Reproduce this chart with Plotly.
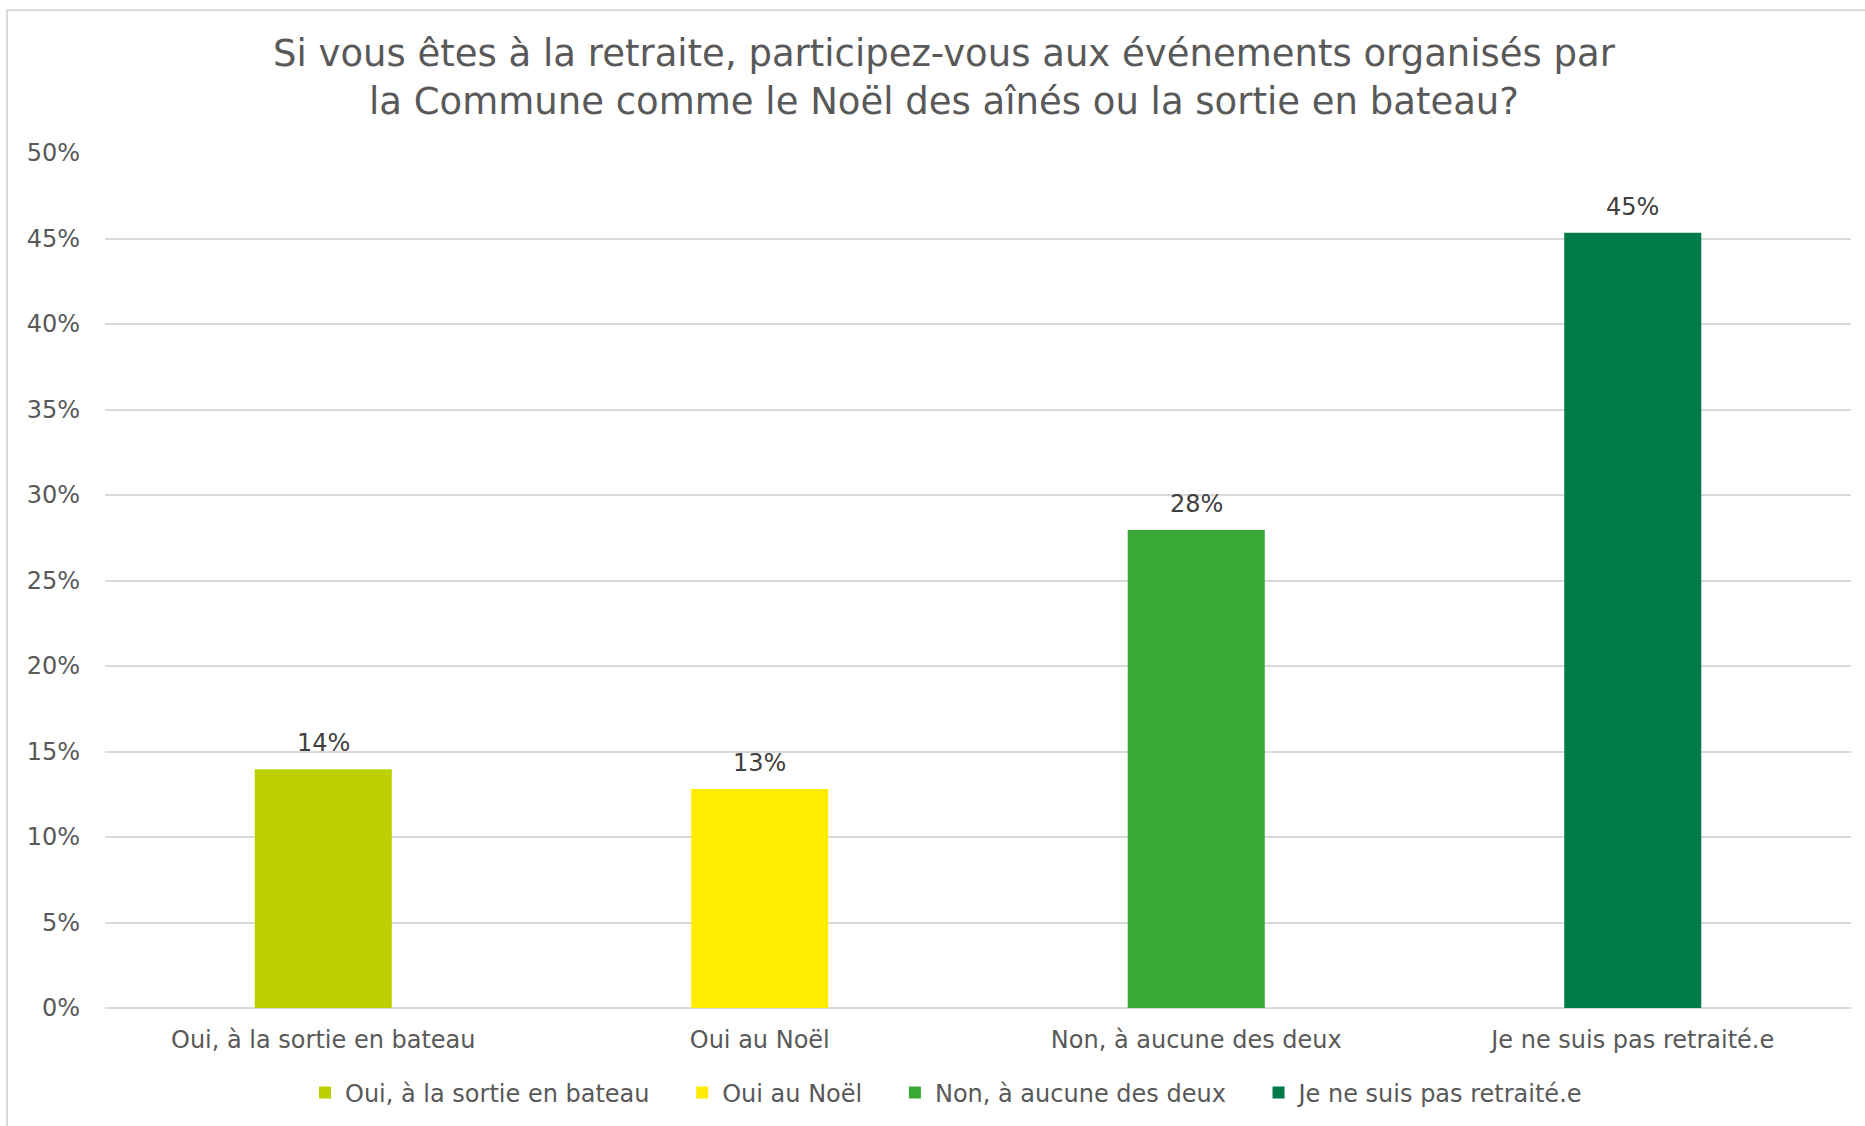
import plotly.graph_objects as go

categories = ["Oui, à la sortie en bateau", "Oui au Noël", "Non, à aucune des deux", "Je ne suis pas retraité.e"]
values = [13.96, 12.8, 27.95, 45.33]
colors = ["#BDD000", "#FFEC00", "#3AAA35", "#007A48"]
tick_vals = [0, 5, 10, 15, 20, 25, 30, 35, 40, 45, 50]
tick_text = [f"{v}%" for v in tick_vals]

W, H = 1865, 1126
ML, MR, MT, MB = 105, 14, 153, 117
PW = W - ML - MR
PH = H - MT - MB
FONT = "DejaVu Sans, Verdana, sans-serif"
PAD = "\u00a0" * 3 + "\u2009"

fig = go.Figure()
for cat, val, col in zip(categories, values, colors):
    fig.add_trace(go.Bar(
        x=[cat], y=[val], name=cat + PAD, marker=dict(color=col, line=dict(width=0)),
        width=0.314, hovertemplate=cat + ": %{y:.0f}%<extra></extra>",
    ))
    fig.add_annotation(
        x=cat, y=val, text=f"{round(val)}%", showarrow=False,
        yanchor="middle", yshift=26,
        font=dict(family=FONT, size=24, color="#404040"),
    )

def px_x(p):
    return (p - ML) / PW

def px_y(p):
    return (H - MB - p) / PH

# outer chart border
fig.add_shape(type="rect", xref="paper", yref="paper",
              x0=px_x(7), x1=px_x(1900), y0=px_y(10), y1=px_y(1160),
              line=dict(color="#D9D9D9", width=2), fillcolor="rgba(0,0,0,0)", layer="below")

fig.update_layout(
    width=W, height=H,
    margin=dict(l=ML, r=MR, t=MT, b=MB),
    paper_bgcolor="white", plot_bgcolor="white",
    barmode="overlay",
    font=dict(family=FONT, size=24, color="#595959"),
    title=dict(
        text="Si vous êtes à la retraite, participez-vous aux événements organisés par<br>la Commune comme le Noël des aînés ou la sortie en bateau?",
        x=944 / W, xanchor="center", xref="container",
        y=1 - 66 / H, yanchor="middle", yref="container",
        font=dict(family=FONT, size=37, color="#595959"),
    ),
    xaxis=dict(
        type="category", categoryorder="array", categoryarray=categories,
        showgrid=False, showline=False, ticks="", ticklabelstandoff=15,
        tickfont=dict(size=24, color="#595959"),
    ),
    yaxis=dict(
        range=[0, 50], tickvals=tick_vals, ticktext=tick_text,
        showgrid=True, gridcolor="#D9D9D9", gridwidth=2,
        zeroline=True, zerolinecolor="#D9D9D9", zerolinewidth=2,
        showline=False, ticks="", ticklabelstandoff=24,
        tickfont=dict(size=24, color="#595959"),
    ),
    legend=dict(
        orientation="h", x=px_x(305), xanchor="left",
        y=px_y(1093), yanchor="middle",
        font=dict(family=FONT, size=24, color="#595959"),
        itemwidth=30, traceorder="normal",
    ),
    showlegend=True,
)

fig.write_html("out.html", config={"displayModeBar": False},
               post_script="document.body.style.margin='0px';")
